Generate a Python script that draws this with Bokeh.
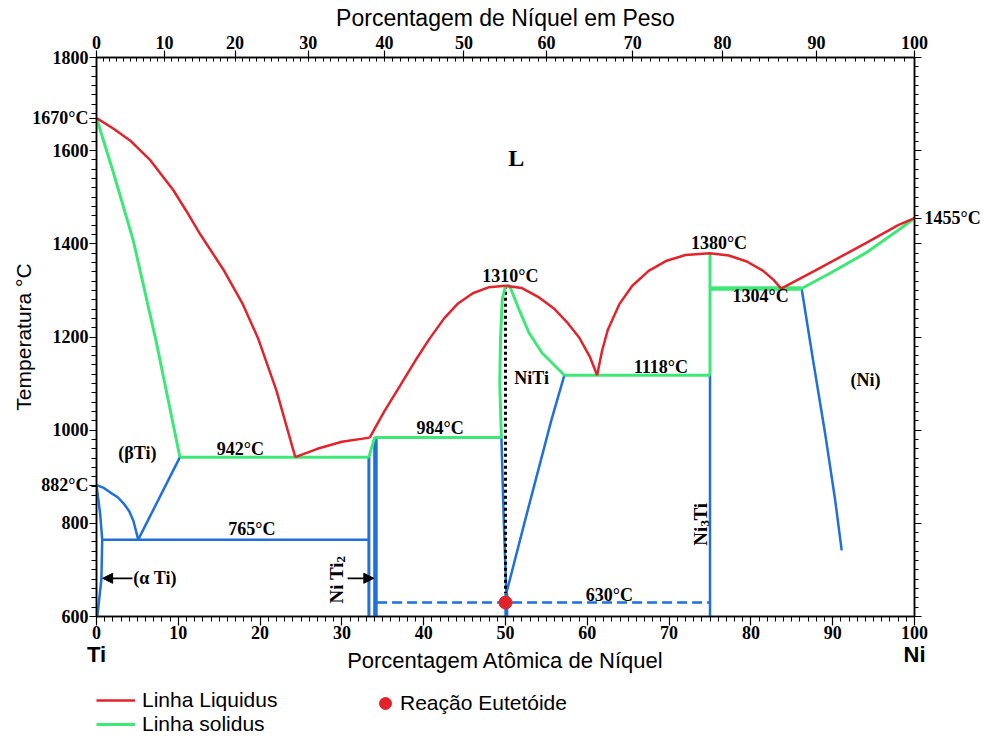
from bokeh.plotting import figure
from bokeh.layouts import column
from bokeh.models import (Range1d, LinearAxis, FixedTicker, CustomJSTickFormatter,
                          Label, Legend, LegendItem, Arrow, NormalHead)
from bokeh.embed import file_html
from bokeh.resources import INLINE

RED = "#e3232b"
GREEN = "#3ee877"
BLUE = "#1f6fdc"
SERIF = "Liberation Serif"
SANS = "Liberation Sans"

# ---------------- data (at% Ni, temperature degC) ----------------
# liquidus
liq_ti_x = [0, 2.0, 4.1, 6.6, 9.4, 11.0, 12.7, 15.5, 17.9, 19.8, 22.0, 24.3]
liq_ti_t = [1670, 1648, 1622, 1579, 1515, 1470, 1420, 1345, 1270, 1195, 1085, 942]
liq_e1_x = [24.3, 27.0, 30.0, 33.4]
liq_e1_t = [942, 960, 975, 984]
liq_nitil_x = [33.4, 35.2, 37.1, 39.0, 40.7, 42.5, 44.2, 46.0, 48.0, 50.0]
liq_nitil_t = [984, 1041, 1095, 1150, 1196, 1240, 1272, 1294, 1307, 1310]
liq_nitir_x = [50.0, 52.0, 54.1, 56.0, 57.5, 59.0, 60.3, 61.2]
liq_nitir_t = [1310, 1305, 1285, 1260, 1232, 1199, 1158, 1118]
liq_ni3ti_x = [61.2, 61.8, 62.5, 63.9, 65.5, 67.5, 69.6, 72.0, 75.0, 77.3, 79.5, 81.5, 82.8, 83.7]
liq_ni3ti_t = [1118, 1170, 1215, 1270, 1310, 1342, 1363, 1376, 1380, 1375, 1362, 1342, 1322, 1304]
liq_ni_x = [83.7, 87.9, 94.0, 98.0, 100]
liq_ni_t = [1304, 1343, 1401, 1440, 1455]

# solidus
sol_ti_x = [0, 2.1, 4.5, 7.3, 10.2]
sol_ti_t = [1670, 1551, 1407, 1190, 942]
iso942_x = [10.2, 33.3]
iso942_t = [942, 942]
sol_niti2_x = [33.3, 34.0]
sol_niti2_t = [942, 984]
iso984_x = [34.0, 49.5]
iso984_t = [984, 984]
sol_nitil_x = [49.5, 49.3, 49.4, 49.6, 50.0]
sol_nitil_t = [984, 1100, 1200, 1280, 1310]
sol_nitir_x = [50.0, 50.5, 51.7, 52.9, 54.5, 57.2]
sol_nitir_t = [1310, 1310, 1257, 1208, 1165, 1118]
iso1118_x = [57.2, 75.0]
iso1118_t = [1118, 1118]
sol_ni3ti_x = [75.0, 75.0]
sol_ni3ti_t = [1118, 1380]
iso1304_x = [75.0, 86.2]
iso1304_t = [1304, 1304]
sol_ni_x = [86.2, 89.9, 94.0, 98.0, 100]
sol_ni_t = [1304, 1339, 1380, 1429, 1455]

# solid-state boundaries
beta_l_x = [0, 0.9, 1.7, 2.6, 3.3, 4.0, 4.5, 5.1]
beta_l_t = [882, 876, 866, 856, 843, 826, 806, 765]
beta_r_x = [5.1, 10.2]
beta_r_t = [765, 942]
iso765_x = [0.7, 33.3]
iso765_t = [765, 765]
alpha_x = [0, 0.45, 0.7, 0.6, 0.1]
alpha_t = [882, 820, 765, 680, 600]
niti2a_x = [33.3, 33.3]
niti2a_t = [942, 600]
niti2b_x = [34.1, 34.1]
niti2b_t = [984, 600]
nitil_x = [49.5, 49.8, 50.1]
nitil_t = [984, 800, 650]
nitir_x = [50.1, 52.3, 55.6, 57.2]
nitir_t = [650, 800, 1021, 1118]
nitib_x = [50.1, 50.1]
nitib_t = [650, 600]
iso630_x = [34.3, 75.0]
iso630_t = [630, 630]
ni3ti_x = [75.0, 75.0]
ni3ti_t = [1118, 600]
ni_solv_x = [86.2, 87.6, 89.1, 90.3, 91.1]
ni_solv_t = [1304, 1150, 990, 850, 742]
niti_dot_x = [50.0, 50.0]
niti_dot_t = [1310, 650]

eut_x = [50.0]
eut_t = [630]

bottom_ticks = list(range(0, 101, 10))
element_ticks = [0, 100]
left_ticks = [600, 800, 1000, 1200, 1400, 1600, 1800, 882, 1670]
right_ticks = [600, 800, 1000, 1200, 1400, 1600, 1800, 1455]
top_wt_ticks = list(range(0, 101, 10))

M_NI, M_TI = 58.693, 47.867


def wt_to_at(w):
    if w >= 100:
        return 100.0
    n = w / M_NI
    t = (100.0 - w) / M_TI
    return 100.0 * n / (n + t)


# ---------------- main figure ----------------
fig = figure(width=983, height=680, x_range=Range1d(0, 100), y_range=Range1d(600, 1800),
             output_backend="svg", toolbar_location=None,
             x_axis_location=None, y_axis_location=None,
             min_border_left=96, min_border_right=67, min_border_top=57, min_border_bottom=64)
fig.xgrid.visible = False
fig.ygrid.visible = False
fig.outline_line_color = "black"
fig.outline_line_width = 1.5
fig.background_fill_color = "white"
fig.border_fill_color = "white"


def style_axis(ax):
    ax.axis_line_width = 1.5
    ax.axis_line_color = "black"
    ax.major_tick_line_color = "black"
    ax.minor_tick_line_color = "black"
    ax.major_tick_line_width = 1.2
    ax.minor_tick_line_width = 1.0
    ax.major_label_text_font = SERIF
    ax.major_label_text_font_style = "bold"
    ax.major_label_text_font_size = "18px"
    ax.major_label_text_color = "black"
    ax.axis_label_text_font = SANS
    ax.axis_label_text_font_style = "normal"
    ax.axis_label_text_font_size = "22px"
    ax.axis_label_text_color = "black"


bottom = LinearAxis(ticker=FixedTicker(ticks=bottom_ticks, minor_ticks=list(range(0, 101))))
style_axis(bottom)
bottom.major_tick_out = 9
bottom.major_tick_in = 0
bottom.minor_tick_out = 5
bottom.minor_tick_in = 0
bottom.major_label_standoff = 0
fig.add_layout(bottom, "below")

elements = LinearAxis(ticker=FixedTicker(ticks=element_ticks, minor_ticks=[]),
                      axis_label="Porcentagem Atômica de Níquel",
                      formatter=CustomJSTickFormatter(code="""
return tick < 50 ? "Ti" : "Ni";
"""))
style_axis(elements)
elements.axis_line_color = None
elements.major_tick_line_color = None
elements.major_tick_out = 0
elements.major_tick_in = 0
elements.major_label_text_font = SANS
elements.major_label_text_font_size = "22px"
elements.major_label_standoff = 0
elements.axis_label_standoff = -22
fig.add_layout(elements, "below")

top = LinearAxis(ticker=FixedTicker(ticks=[wt_to_at(w) for w in top_wt_ticks],
                                    minor_ticks=[wt_to_at(w) for w in range(0, 101)]),
                 axis_label="Porcentagem de Níquel em Peso",
                 formatter=CustomJSTickFormatter(code="""
const a = tick / 100;
if (a >= 0.9999) { return "100"; }
const w = a * 58.693 / (a * 58.693 + (1 - a) * 47.867);
return Math.round(w * 100).toString();
"""))
style_axis(top)
top.axis_label_text_font_size = "23px"
top.major_tick_out = 7
top.major_tick_in = 0
top.minor_tick_out = 0
top.minor_tick_in = 4
top.major_label_standoff = 2
top.axis_label_standoff = 2
fig.add_layout(top, "above")

left = LinearAxis(ticker=FixedTicker(ticks=left_ticks, minor_ticks=list(range(600, 1801, 20))),
                  axis_label="Temperatura °C",
                  formatter=CustomJSTickFormatter(code="""
if (tick == 1670) { return "1670°C"; }
if (tick == 882) { return "882°C"; }
return tick.toFixed(0);
"""))
style_axis(left)
left.axis_label_text_font_size = "21px"
left.major_tick_out = 7
left.major_tick_in = 0
left.minor_tick_out = 5
left.minor_tick_in = 0
left.major_label_standoff = 1
left.axis_label_standoff = -6
fig.add_layout(left, "left")

right = LinearAxis(ticker=FixedTicker(ticks=right_ticks, minor_ticks=list(range(600, 1801, 20))),
                   formatter=CustomJSTickFormatter(code="""
if (tick == 1455) { return "1455°C"; }
return "";
"""))
style_axis(right)
right.major_tick_out = 7
right.major_tick_in = 0
right.minor_tick_out = 4
right.minor_tick_in = 0
right.major_label_standoff = 3
fig.add_layout(right, "right")

# ---------------- lines ----------------
liq_segments = [(liq_ti_x, liq_ti_t), (liq_e1_x, liq_e1_t), (liq_nitil_x, liq_nitil_t),
                (liq_nitir_x, liq_nitir_t), (liq_ni3ti_x, liq_ni3ti_t), (liq_ni_x, liq_ni_t)]
sol_segments = [(sol_ti_x, sol_ti_t, 3), (iso942_x, iso942_t, 3), (sol_niti2_x, sol_niti2_t, 3),
                (iso984_x, iso984_t, 3), (sol_nitil_x, sol_nitil_t, 3), (sol_nitir_x, sol_nitir_t, 3),
                (iso1118_x, iso1118_t, 3), (sol_ni3ti_x, sol_ni3ti_t, 3), (iso1304_x, iso1304_t, 4.5),
                (sol_ni_x, sol_ni_t, 3)]
blue_segments = [(beta_l_x, beta_l_t, 2.5), (beta_r_x, beta_r_t, 2.5), (iso765_x, iso765_t, 2.5),
                 (alpha_x, alpha_t, 2.5), (niti2a_x, niti2a_t, 3), (niti2b_x, niti2b_t, 4.5),
                 (nitil_x, nitil_t, 2.5), (nitir_x, nitir_t, 2.5), (nitib_x, nitib_t, 4),
                 (ni3ti_x, ni3ti_t, 2.5), (ni_solv_x, ni_solv_t, 2.5)]

for xs, ts, w in blue_segments:
    fig.line(xs, ts, line_color=BLUE, line_width=w)
fig.line(iso630_x, iso630_t, line_color=BLUE, line_width=2.5, line_dash="10 5")
fig.line(niti_dot_x, niti_dot_t, line_color="black", line_width=3, line_dash="3 3")

for xs, ts, w in sol_segments:
    fig.line(xs, ts, line_color=GREEN, line_width=w)
for xs, ts in liq_segments:
    fig.line(xs, ts, line_color=RED, line_width=2.5)

fig.scatter(eut_x, eut_t, size=13, marker="circle", fill_color=RED, line_color=RED)

# ---------------- arrows ----------------
fig.add_layout(Arrow(end=NormalHead(size=10, fill_color="black", line_color="black"),
                     x_start=4.4, y_start=682, x_end=0.75, y_end=682,
                     line_color="black", line_width=1.8))
fig.add_layout(Arrow(end=NormalHead(size=10, fill_color="black", line_color="black"),
                     x_start=30.7, y_start=682, x_end=33.9, y_end=682,
                     line_color="black", line_width=1.8))


# ---------------- text labels ----------------
def lab(x, y, text, size="18px", align="center", angle=0.0, font=SERIF, style="bold"):
    fig.add_layout(Label(x=x, y=y, text=text, text_font=font, text_font_style=style,
                         text_font_size=size, text_align=align, text_baseline="middle",
                         text_color="black", angle=angle))


lab(51.3, 1584, "L", size="24px")
lab(5.0, 950, "(βTi)")
lab(17.6, 959, "942°C")
lab(19.0, 787, "765°C")
lab(42.0, 1004, "984°C")
lab(50.6, 1330, "1310°C")
lab(53.2, 1113, "NiTi")
lab(69.0, 1135, "1118°C")
lab(76.1, 1401, "1380°C")
lab(81.2, 1287, "1304°C")
lab(94.0, 1107, "(Ni)")
lab(62.7, 647, "630°C")
lab(4.5, 682, "(α Ti)", align="left")

# rotated phase names with subscripts
lab(29.3, 628, "Ni Ti", size="19px", align="left", angle=1.5708)
lab(29.9, 716, "2", size="13px", align="left", angle=1.5708)
lab(73.8, 752, "Ni", size="19px", align="left", angle=1.5708)
lab(74.4, 793, "3", size="13px", align="left", angle=1.5708)
lab(73.8, 806, "Ti", size="19px", align="left", angle=1.5708)

# ---------------- legend strip (frame aligned with the main plot) ----------------
leg_fig = figure(width=983, height=56, x_range=Range1d(0, 100), y_range=Range1d(600, 1800),
                 output_backend="svg", toolbar_location=None,
                 x_axis_location=None, y_axis_location=None, min_border=0)
leg_fig.xgrid.visible = False
leg_fig.ygrid.visible = False
leg_fig.outline_line_color = None
leg_fig.background_fill_color = "white"
leg_fig.border_fill_color = "white"

# key renderers (hidden; only their legend swatches are shown)
liq_key = leg_fig.line(liq_ni_x, liq_ni_t, line_color=RED, line_width=2.5, visible=False)
sol_key = leg_fig.line(sol_ni_x, sol_ni_t, line_color=GREEN, line_width=3, visible=False)
eut_key = leg_fig.scatter(eut_x, eut_t, size=13, marker="circle", fill_color=RED,
                          line_color=RED, visible=False)

leg1 = Legend(items=[LegendItem(label="Linha Liquidus", renderers=[liq_key]),
                     LegendItem(label="Linha solidus", renderers=[sol_key])],
              location=(0, 0), orientation="vertical",
              glyph_width=39, glyph_height=22, label_height=22, label_standoff=7,
              spacing=0, padding=0, margin=0, border_line_color=None,
              background_fill_alpha=0.0, inactive_fill_alpha=0.0,
              label_text_font=SANS, label_text_font_size="21px", label_text_color="black")
leg2 = Legend(items=[LegendItem(label="Reação Eutetóide", renderers=[eut_key])],
              location=(274, 18), orientation="vertical",
              glyph_width=30, glyph_height=30, label_height=30, label_standoff=0,
              spacing=0, padding=0, margin=0, border_line_color=None,
              background_fill_alpha=0.0, inactive_fill_alpha=0.0,
              label_text_font=SANS, label_text_font_size="21px", label_text_color="black")
leg_fig.add_layout(leg1, "center")
leg_fig.add_layout(leg2, "center")

p = column(fig, leg_fig, spacing=0)

open("out.html", "w").write(file_html(p, INLINE))
